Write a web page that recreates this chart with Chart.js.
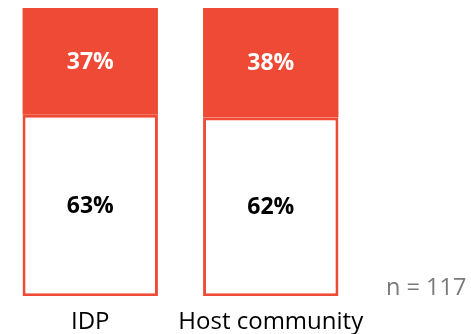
<!DOCTYPE html>
<html>
<head>
<meta charset="utf-8">
<script src="https://cdn.jsdelivr.net/npm/chart.js@4"></script>
<style>
  html, body { margin: 0; padding: 0; background: #fff; }
  #wrap { position: relative; width: 471px; height: 334px; }
  #note { position: absolute; left: 386px; top: 270px; font: 23.5px "Open Sans", sans-serif; color: #7a7a7a; }
</style>
</head>
<body>
<div id="wrap">
  <canvas id="myChart"></canvas>
  <div id="note">n = 117</div>
</div>
<script>
const groups = ['IDP', 'Host community'];
const shareNo = [63, 62];
const shareYes = [37, 38];

const RED = '#ef4a35';

// write each segment's percentage in the middle of its bar
const valueLabels = {
  id: 'valueLabels',
  afterDatasetsDraw(chart) {
    const ctx = chart.ctx;
    ctx.save();
    ctx.font = 'bold 23px "Open Sans", sans-serif';
    ctx.textAlign = 'center';
    ctx.textBaseline = 'middle';
    chart.data.datasets.forEach((ds, i) => {
      chart.getDatasetMeta(i).data.forEach((bar, j) => {
        const mid = (bar.y + bar.base) / 2;
        ctx.fillStyle = ds.labelColor;
        ctx.fillText(ds.data[j] + '%', bar.x, mid + 1);
      });
    });
    ctx.restore();
  }
};

new Chart(document.getElementById('myChart'), {
  type: 'bar',
  data: {
    labels: groups,
    datasets: [{
      data: shareNo,
      backgroundColor: '#ffffff',
      borderColor: RED,
      borderWidth: 3,
      borderSkipped: false,
      labelColor: '#000000',
    }, {
      data: shareYes,
      backgroundColor: RED,
      borderColor: RED,
      borderWidth: 0,
      labelColor: '#ffffff',
    }]
  },
  options: {
    animation: false,
    responsive: true,
    maintainAspectRatio: false,
    layout: { padding: { left: 0, right: 110, top: 8, bottom: -15 } },
    plugins: { legend: { display: false }, tooltip: { enabled: false } },
    datasets: { bar: { categoryPercentage: 1, barPercentage: 0.75 } },
    scales: {
      x: {
        stacked: true,
        grid: { display: false, drawTicks: false },
        border: { display: false },
        ticks: {
          color: '#000',
          padding: 12,
          maxRotation: 0,
          minRotation: 0,
          autoSkip: false,
          font: { family: 'Open Sans', size: 24 }
        }
      },
      y: {
        stacked: true,
        display: false,
        min: 0,
        max: 100
      }
    }
  },
  plugins: [valueLabels]
});
</script>
</body>
</html>
